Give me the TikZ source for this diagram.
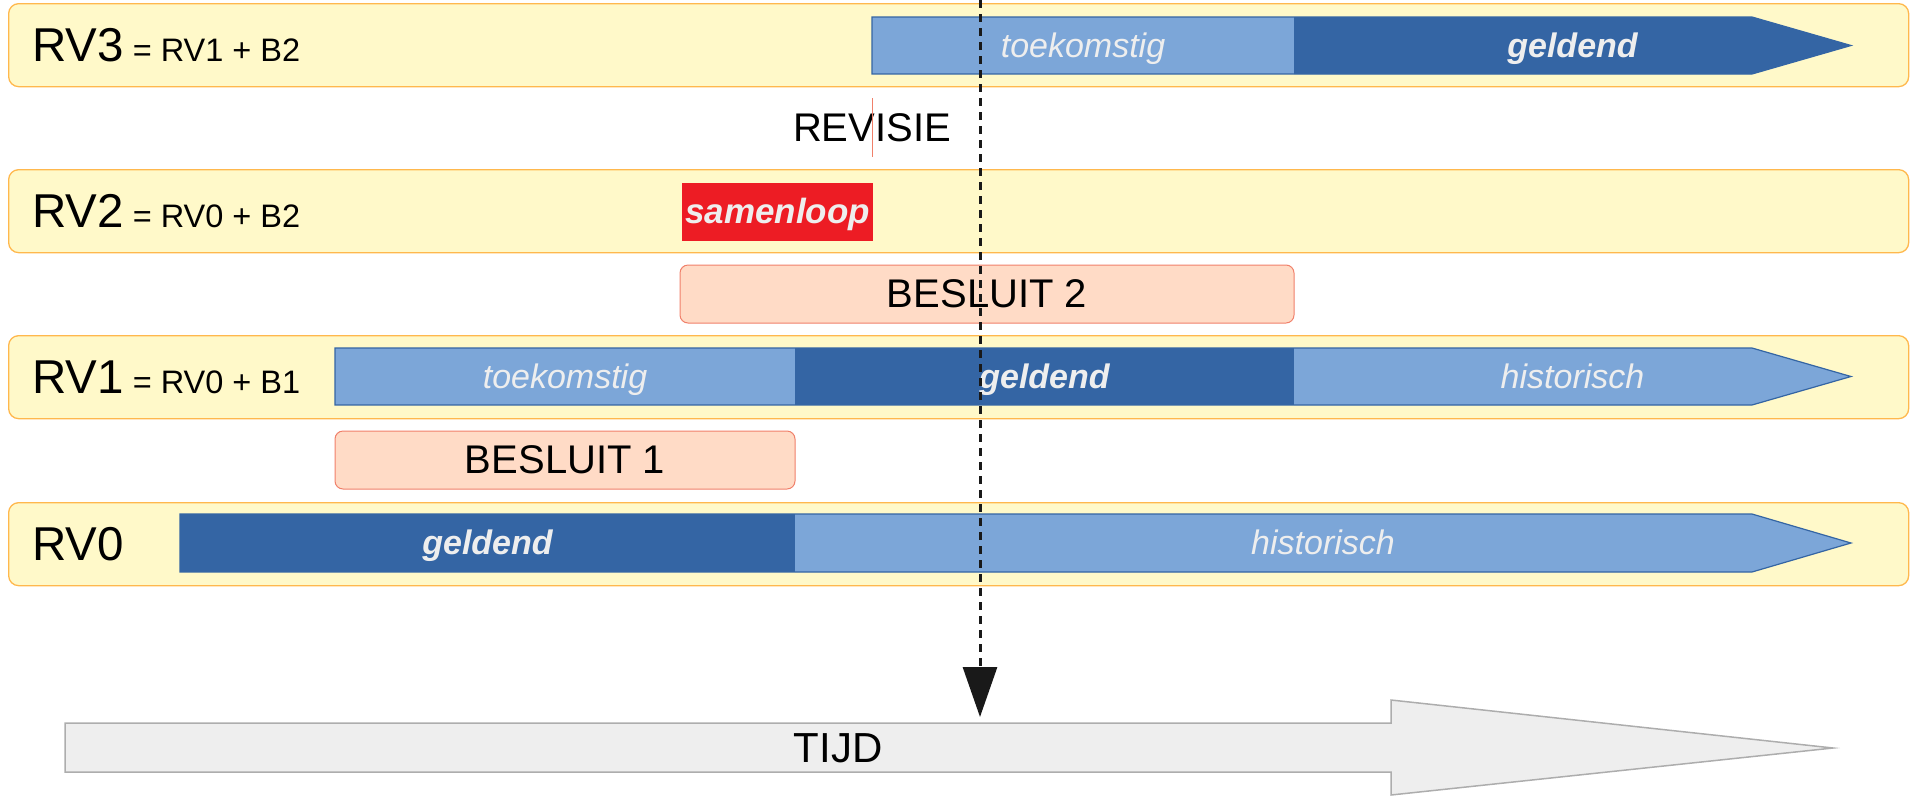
\documentclass[tikz,border=0pt]{standalone}
\usepackage{fontspec}
\setmainfont{Liberation Sans}
\usetikzlibrary{arrows.meta}
\definecolor{bandfill}{HTML}{FFF9C9}
\definecolor{banddraw}{HTML}{FFB84D}
\definecolor{lblue}{HTML}{7CA6D8}
\definecolor{dblue}{HTML}{3465A4}
\definecolor{peach}{HTML}{FFDBC6}
\definecolor{peachdraw}{HTML}{F0806A}
\definecolor{samred}{HTML}{ED1C24}
\definecolor{bartext}{HTML}{EEEEEE}
\definecolor{tijdfill}{HTML}{EEEEEE}
\definecolor{tijddraw}{HTML}{ADADAD}
\begin{document}
\begin{tikzpicture}[x=1pt,y=-1pt,
  band/.style={draw=banddraw, fill=bandfill, rounded corners=10pt, line width=1.3pt,
    minimum width=1900pt, minimum height=83pt, inner sep=0pt, anchor=north west},
  rvlabel/.style={anchor=base west, inner sep=0pt, font=\fontsize{47.5}{52}\selectfont},
  barline/.style={draw=dblue, line width=1.2pt},
  bartxt/.style={inner sep=0pt, text=bartext, font=\fontsize{34}{40}\selectfont\itshape,
    text height=30.8pt, text depth=7.2pt},
  bartxtb/.style={bartxt, font=\fontsize{34}{40}\selectfont\bfseries\itshape},
  besluit/.style={draw=peachdraw, fill=peach, rounded corners=8pt, line width=1pt,
    inner sep=0pt, minimum height=58pt},
  bigtxt/.style={inner sep=0pt, font=\fontsize{40}{46}\selectfont,
    text height=36.2pt, text depth=8.5pt},
]
\useasboundingbox (0,0) rectangle (1912,796);

% bands
\node[band] (band3) at (8,3) {};
\node[band] (band2) at (8,169) {};
\node[band] (band1) at (8,335) {};
\node[band] (band0) at (8,502) {};

% labels
\node[rvlabel] (rv3) at (32,61) {RV3{\fontsize{32.5}{38}\selectfont{} = RV1 + B2}};
\node[rvlabel] (rv2) at (32,227) {RV2{\fontsize{32.5}{38}\selectfont{} = RV0 + B2}};
\node[rvlabel] (rv1) at (32,393) {RV1{\fontsize{32.5}{38}\selectfont{} = RV0 + B1}};
\node[rvlabel] (rv0) at (32,560) {RV0};

% RV3 bar
\fill[lblue] (872,17) rectangle (1294,74);
\fill[dblue] (1294,17) -- (1752,17) -- (1851,45.5) -- (1752,74) -- (1294,74) -- cycle;
\draw[barline] (872,17) -- (1752,17) -- (1851,45.5) -- (1752,74) -- (872,74) -- cycle;
\node[bartxt] (rv3toek) at (1083,45.5) {toekomstig};
\node[bartxtb] (rv3geld) at (1572.5,45.5) {geldend};

% RV1 bar
\fill[lblue] (335,348) rectangle (795,405);
\fill[dblue] (795,348) rectangle (1294,405);
\fill[lblue] (1294,348) -- (1752,348) -- (1851,376.5) -- (1752,405) -- (1294,405) -- cycle;
\draw[barline] (335,348) -- (1752,348) -- (1851,376.5) -- (1752,405) -- (335,405) -- cycle;
\node[bartxt] (rv1toek) at (565,376.5) {toekomstig};
\node[bartxtb] (rv1geld) at (1044.5,376.5) {geldend};
\node[bartxt] (rv1hist) at (1572.5,376.5) {historisch};

% RV0 bar
\fill[dblue] (180,514) rectangle (795,572);
\fill[lblue] (795,514) -- (1752,514) -- (1851,543) -- (1752,572) -- (795,572) -- cycle;
\draw[barline] (180,514) -- (1752,514) -- (1851,543) -- (1752,572) -- (180,572) -- cycle;
\node[bartxtb] (rv0geld) at (487.5,543) {geldend};
\node[bartxt] (rv0hist) at (1323,543) {historisch};

% samenloop
\node[fill=samred, inner sep=0pt, minimum width=191pt, minimum height=58pt] (samenbox) at (777.5,212) {};
\node[bartxtb, font=\fontsize{35}{40}\selectfont\bfseries\itshape] (samen) at (777.5,212) {samenloop};

% besluit boxes
\node[besluit, minimum width=614pt] (b2box) at (987,294) {};
\node[bigtxt] (b2) at (987,294) {BESLUIT 2};
\node[besluit, minimum width=460pt] (b1box) at (565,460) {};
\node[bigtxt] (b1) at (565,460) {BESLUIT 1};

% revisie
\node[bigtxt] (revisie) at (872,128) {REVISIE};
\coordinate (redtop) at (872,98);
\coordinate (redbot) at (872,157);
\draw[peachdraw, line width=1pt] (redtop) -- (redbot);

% TIJD arrow
\draw[fill=tijdfill, draw=tijddraw, line width=1.5pt]
  (65,723) -- (1391,723) -- (1391,700) -- (1833,748) -- (1391,795) -- (1391,772) -- (65,772) -- cycle;
\node[inner sep=0pt, font=\fontsize{42}{48}\selectfont, text height=38pt, text depth=8.9pt] (tijd) at (838,747.5) {TIJD};

% dashed time marker
\coordinate (nowtop) at (980,0);
\coordinate (nowend) at (980,717);
\draw[line width=3pt, dash pattern=on 8pt off 6pt, color=black!90,
  -{Triangle[length=50pt,width=34pt]}] (nowtop) -- (nowend);
\end{tikzpicture}
\end{document}
